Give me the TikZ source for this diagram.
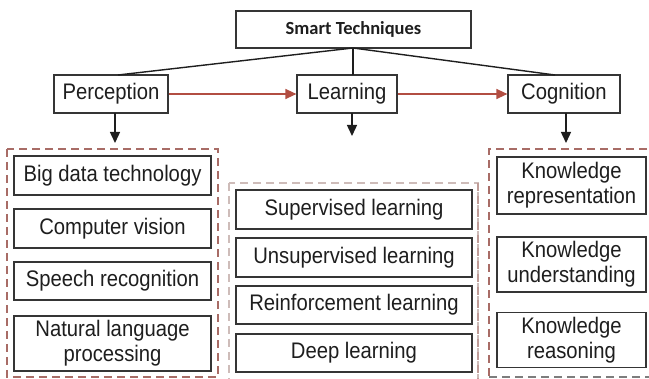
\documentclass[tikz,border=0pt]{standalone}
\usepackage{fontspec}
\setmainfont{Liberation Sans}[FakeStretch=0.9]
\newfontfamily\headfont{Carlito}
\usetikzlibrary{arrows.meta}

\definecolor{ink}{RGB}{30,30,30}
\definecolor{flowred}{RGB}{178,78,66}
\definecolor{groupred}{RGB}{168,108,102}
\definecolor{grouplight}{RGB}{206,188,185}
\definecolor{groupgray}{RGB}{125,125,125}

\tikzset{
  cell/.style={draw=ink!90, line width=1.2pt, fill=white, text=ink, inner sep=0pt,
    align=center, font=\fontsize{22.5}{25}\selectfont},
  headcell/.style={cell, font=\headfont\bfseries\fontsize{18.5}{20}\selectfont},
  link/.style={draw=ink, line width=1.4pt},
  down/.style={draw=ink, line width=1.4pt, -{Triangle[length=11pt,width=10pt]}},
  flow/.style={draw=flowred, line width=1.4pt, -{Triangle[length=11pt,width=10pt]}},
  groupbox/.style={line width=1.4pt, dash pattern=on 8pt off 5pt},
}

\begin{document}
\begin{tikzpicture}[x=1pt,y=-1pt]
  \useasboundingbox (0,0) rectangle (649,379);
  \clip (0,0) rectangle (649,379);

  % dashed group frames
  \draw[groupbox, draw=groupred] (7,149) rectangle (218,377);
  \draw[groupbox, draw=grouplight] (229,183) rectangle (478,392);
  \draw[groupbox, draw=grouplight!60!groupred] (478,183) -- (478,392);
  \draw[groupbox, draw=groupred] (660,149) -- (489,149) -- (489,377);
  \draw[groupbox, draw=groupgray] (489,377) -- (660,377);

  % top level
  \node[headcell, minimum width=235pt, minimum height=37pt] (top) at (353.5,29.5) {Smart Techniques};
  \node[cell, minimum width=114pt, minimum height=38pt] (perc) at (111,94) {Perception};
  \node[cell, minimum width=100pt, minimum height=38pt] (learn) at (347,94) {Learning};
  \node[cell, minimum width=112pt, minimum height=38pt] (cog) at (564,94) {Cognition};

  \coordinate (hub) at (353,48);
  \coordinate (percin) at (118,75);
  \coordinate (learnin) at (353,75);
  \coordinate (cogin) at (555,75);
  \draw[link] (hub) -- (percin);
  \draw[link] (hub) -- (learnin);
  \draw[link] (hub) -- (cogin);

  \draw[flow] (perc.east) -- (learn.west);
  \draw[flow] (learn.east) -- (cog.west);

  % perception group
  \node[cell, minimum width=197pt, minimum height=39pt] (bd) at (112.5,175.5) {Big data technology};
  \node[cell, minimum width=197pt, minimum height=39pt] (cv) at (112.5,228.5) {Computer vision};
  \node[cell, minimum width=197pt, minimum height=38pt] (sr) at (112.5,281) {Speech recognition};
  \node[cell, minimum width=197pt, minimum height=55pt] (nlp) at (112.5,343.5) {Natural language\\processing};

  % learning group
  \node[cell, minimum width=236pt, minimum height=39pt] (sl) at (354,209.5) {Supervised learning};
  \node[cell, minimum width=236pt, minimum height=39pt] (ul) at (354,257.5) {Unsupervised learning};
  \node[cell, minimum width=236pt, minimum height=38pt] (rl) at (354,305) {Reinforcement learning};
  \node[cell, minimum width=236pt, minimum height=38pt] (dl) at (354,353) {Deep learning};

  % cognition group
  \node[cell, minimum width=149pt, minimum height=57pt] (kr) at (571.5,185.5) {Knowledge\\representation};
  \node[cell, minimum width=149pt, minimum height=55pt] (ku) at (571.5,264.5) {Knowledge\\understanding};
  \node[cell, minimum width=149pt, minimum height=55pt] (kre) at (571.5,340) {Knowledge\\reasoning};

  % arrows into the groups
  \coordinate (percout) at (115,113);
  \coordinate (percend) at (115,143);
  \coordinate (learnout) at (352,113);
  \coordinate (learnend) at (352,136);
  \coordinate (cogout) at (566,113);
  \coordinate (cogend) at (566,143);
  \draw[down] (percout) -- (percend);
  \draw[down] (learnout) -- (learnend);
  \draw[down] (cogout) -- (cogend);
\end{tikzpicture}
\end{document}
